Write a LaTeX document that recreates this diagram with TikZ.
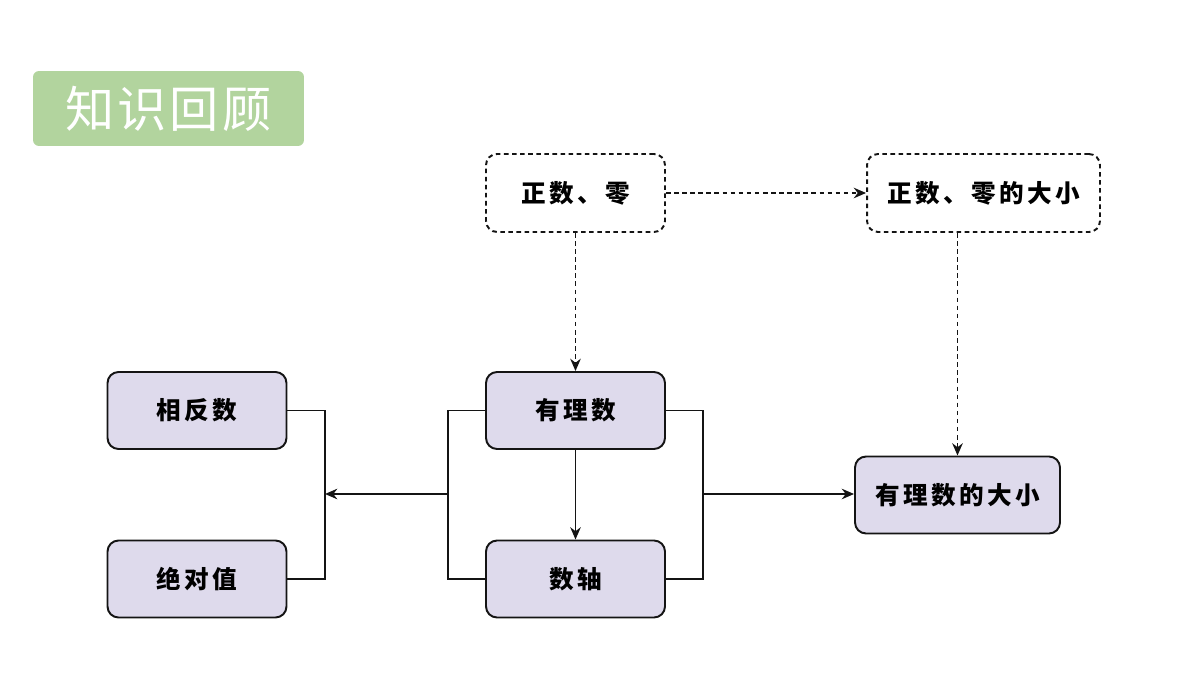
\documentclass[tikz,border=0pt]{standalone}
\usepackage{fontspec}
\newfontfamily\cjk[LetterSpace=14]{Noto Sans CJK SC}
\newfontfamily\cjktitle[LetterSpace=6]{Noto Sans CJK SC}
\usetikzlibrary{arrows.meta}
\definecolor{titlegreen}{RGB}{178,212,158}
\definecolor{boxfill}{RGB}{222,218,236}
\definecolor{lineblack}{RGB}{20,20,20}
\tikzset{
  boxfont/.style={font=\cjk\bfseries\fontsize{14pt}{16pt}\selectfont},
  solidbox/.style={draw=lineblack,line width=1.1pt,fill=boxfill,rounded corners=0.22cm,
    minimum width=3.58cm,minimum height=1.54cm,inner sep=0pt,boxfont},
  dashbox/.style={draw=lineblack,line width=1.1pt,dash pattern=on 2.6pt off 2pt,rounded corners=0.22cm,
    minimum width=3.58cm,minimum height=1.56cm,inner sep=0pt,boxfont},
  conn/.style={draw=lineblack,line width=1pt},
  arr/.style={conn,-{Stealth[length=7pt,width=6pt]}},
  darr/.style={arr,dash pattern=on 2.6pt off 2pt},
}
\begin{document}
\begin{tikzpicture}[x=0.02cm,y=-0.02cm]
\useasboundingbox (0,0) rectangle (1200,675);
\node[fill=titlegreen,rounded corners=0.12cm,minimum width=5.42cm,minimum height=1.5cm,inner sep=0pt,
  text=white,font=\cjktitle\fontsize{28pt}{30pt}\selectfont] (title) at (168.5,108.5) {知识回顾};
\node[dashbox] (pz) at (575.5,193) {正数、零};
\node[dashbox,minimum width=4.66cm] (pzdx) at (983.5,193) {正数、零的大小};
\node[solidbox] (yl) at (575.5,410.5) {有理数};
\node[solidbox] (zz) at (575.5,579) {数轴};
\node[solidbox] (xfs) at (197,410.5) {相反数};
\node[solidbox] (jdz) at (197,579) {绝对值};
\node[solidbox,minimum width=4.1cm] (yldx) at (957.5,495) {有理数的大小};
\coordinate (lb) at (325,494);
\coordinate (mb) at (448,494);
\coordinate (rb) at (703,494);
\draw[darr] (pz.east) -- (pzdx.west);
\draw[darr] (pz.south) -- (yl.north);
\draw[darr] (yldx.north |- pzdx.south) -- (yldx.north);
\draw[arr] (yl.south) -- (zz.north);
\draw[conn] (xfs.east) -| (lb |- jdz.east) -- (jdz.east);
\draw[conn] (yl.west) -| (mb |- zz.west) -- (zz.west);
\draw[arr] (mb) -- (lb);
\draw[conn] (yl.east) -| (rb |- zz.east) -- (zz.east);
\draw[arr] (rb) -- (yldx.west |- rb);
\end{tikzpicture}
\end{document}
